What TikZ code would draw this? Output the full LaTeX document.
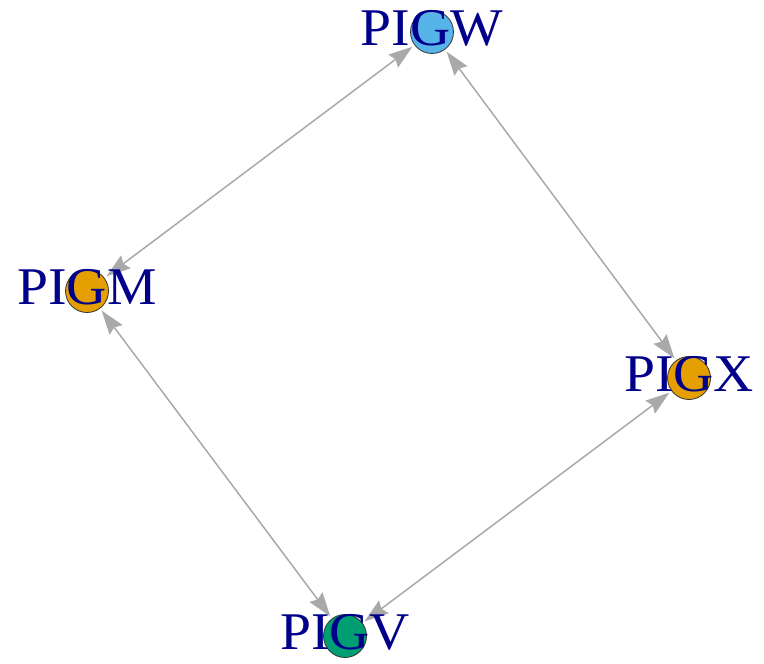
\documentclass[tikz,border=0pt]{standalone}
\usepackage{fontspec}
\setmainfont{Liberation Serif}
\usetikzlibrary{arrows.meta}
\definecolor{skyblue}{HTML}{56B4E9}
\definecolor{ochre}{HTML}{E69F00}
\definecolor{bluegreen}{HTML}{009E73}
\definecolor{navy}{HTML}{00008B}
\definecolor{edgegray}{HTML}{A9A9A9}

\begin{document}
\begin{tikzpicture}[x=1pt, y=-1pt,
		vertex/.style={circle, draw=black!80, line width=0.8pt, minimum size=43pt, inner sep=0pt, outer sep=3pt},
		vlabel/.style={text=navy, font=\fontsize{53}{53}\selectfont, xscale=1.05, inner sep=0pt},
		link/.style={draw=edgegray, line width=1.5pt, {Stealth[length=24pt, width=16pt, inset=3pt]}-{Stealth[length=24pt, width=16pt, inset=3pt]}}]
		\useasboundingbox (0,0) rectangle (764,664);
		\foreach \n/\px/\py/\c in {w/432/32/skyblue, m/87/291/ochre, x/689/378/ochre, v/345/636/bluegreen} {
				\node[vertex, fill=\c] (\n) at (\px,\py) {};
			}
		\draw[link] (w) -- (m);
		\draw[link] (w) -- (x);
		\draw[link] (m) -- (v);
		\draw[link] (x) -- (v);
		\foreach \n/\t in {w/PIGW, m/PIGM, x/PIGX, v/PIGV} {
				\node[vlabel] (\n lab) at ([yshift=4pt]\n.center) {\t};
			}
	\end{tikzpicture}
\end{document}
